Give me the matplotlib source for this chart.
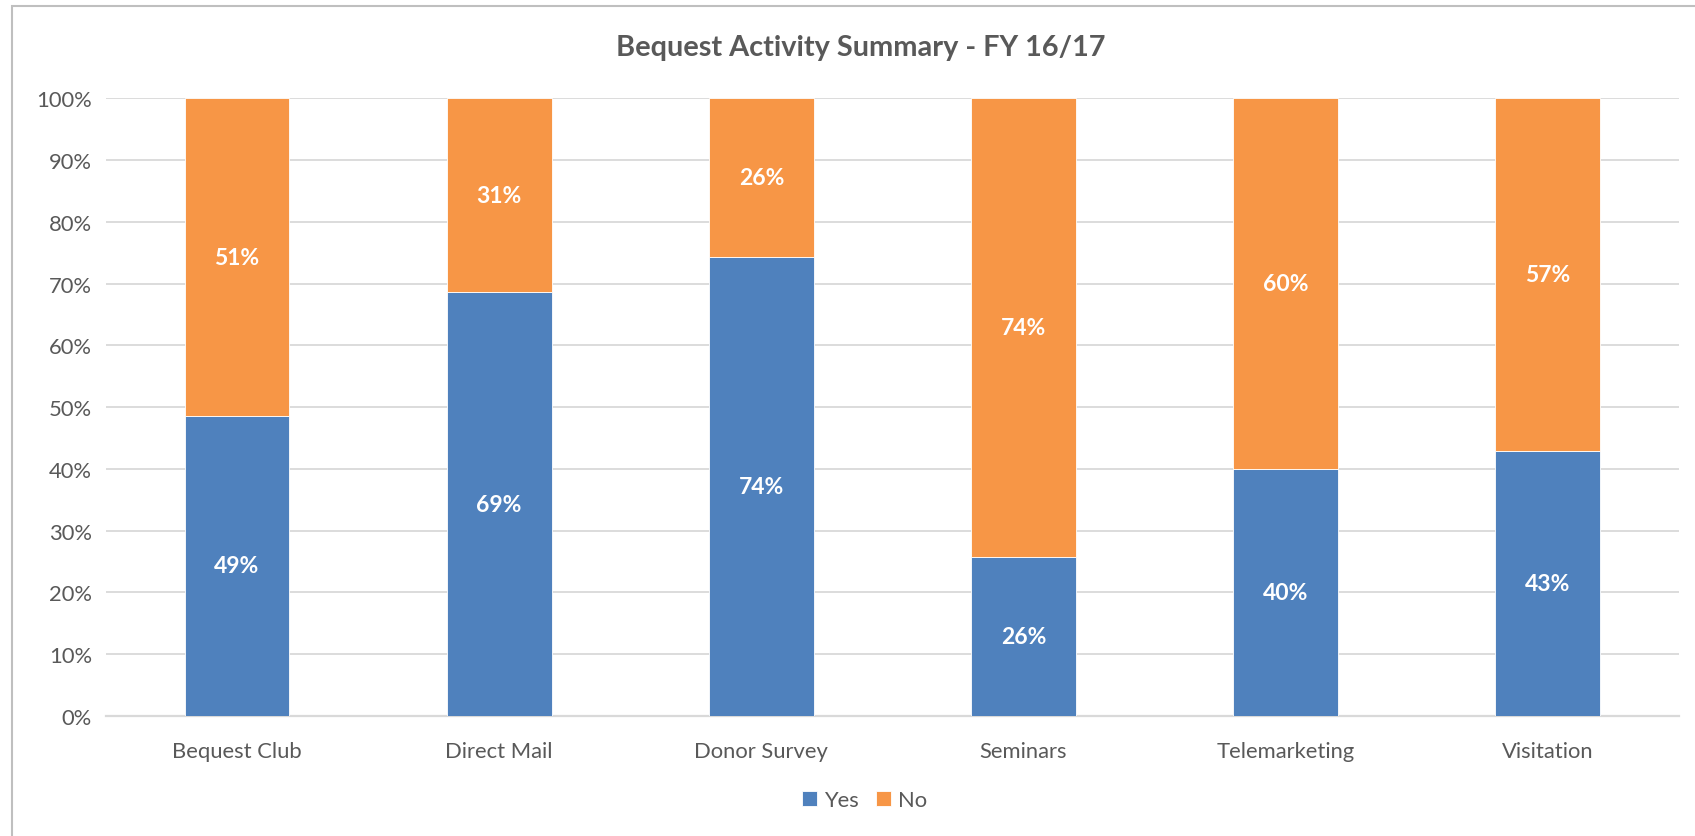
import matplotlib
matplotlib.use("Agg")
from matplotlib import pyplot as plt
from matplotlib.patches import Rectangle
import numpy as np

plt.rcParams['font.family'] = ['Lato', 'DejaVu Sans']

categories = ['Bequest Club', 'Direct Mail', 'Donor Survey', 'Seminars', 'Telemarketing', 'Visitation']
yes_pct = [48.6, 68.6, 74.3, 25.7, 40.0, 42.9]
no_pct = [51.4, 31.4, 25.7, 74.3, 60.0, 57.1]
ytick_labels = ['0%', '10%', '20%', '30%', '40%', '50%', '60%', '70%', '80%', '90%', '100%']

blue = '#4F81BD'
orange = '#F79646'
grey_txt = '#595959'

fig = plt.figure(figsize=(16.95, 8.37), dpi=100)
ax = fig.add_axes([0.0625, 0.1434, 0.928, 0.738])

x = np.arange(len(categories))
b1 = ax.bar(x, yes_pct, width=0.4, color=blue, edgecolor='white', linewidth=0.6, label='Yes', zorder=3)
b2 = ax.bar(x, no_pct, width=0.4, bottom=yes_pct, color=orange, edgecolor='white', linewidth=0.6, label='No', zorder=3)

for i in range(len(categories)):
    ax.text(x[i], yes_pct[i] / 2, '%d%%' % round(yes_pct[i]), ha='center', va='center',
            color='white', fontsize=16.5, fontweight='bold', zorder=4)
    ax.text(x[i], yes_pct[i] + no_pct[i] / 2, '%d%%' % round(no_pct[i]), ha='center', va='center',
            color='white', fontsize=16.5, fontweight='bold', zorder=4)

ax.set_xlim(-0.5, 5.5)
ax.set_ylim(0, 100)
ax.set_yticks(np.arange(0, 101, 10))
ax.set_yticklabels(ytick_labels)
ax.set_xticks(x)
ax.set_xticklabels(categories)
ax.tick_params(axis='both', length=0, colors=grey_txt, labelsize=15.8)
ax.tick_params(axis='x', pad=18)
ax.tick_params(axis='y', pad=10)
ax.grid(axis='y', color='#D9D9D9', linewidth=1.3, zorder=0)
for s in ['top', 'right', 'left']:
    ax.spines[s].set_visible(False)
ax.spines['bottom'].set_color('#D9D9D9')
ax.spines['bottom'].set_linewidth(1.6)

fig.text(0.508, 0.943, 'Bequest Activity Summary - FY 16/17', ha='center', va='center',
         fontsize=20.8, fontweight='bold', color=grey_txt)

fig.legend(handles=[b1, b2], labels=['Yes', 'No'], loc='center', bbox_to_anchor=(0.51, 0.043),
           ncol=2, frameon=False, fontsize=15.8, handlelength=0.7, handleheight=0.7,
           handletextpad=0.3, columnspacing=0.8, labelcolor=grey_txt)

# chart border (cut off at right and bottom)
fig.patches.append(Rectangle((12 / 1695, -0.1), 1.2, 1.1 - 7 / 837, transform=fig.transFigure,
                             fill=False, edgecolor='#BFBFBF', linewidth=1.5))

plt.savefig('out.png', dpi=100)
